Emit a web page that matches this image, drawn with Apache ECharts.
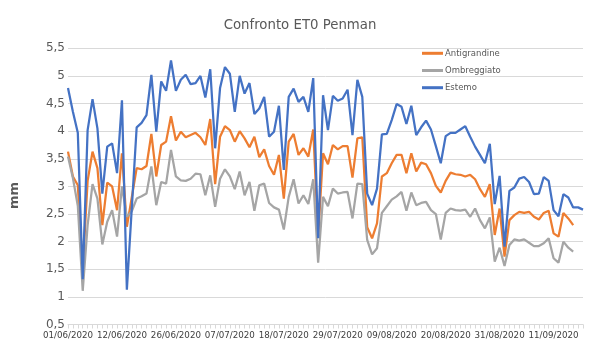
<!DOCTYPE html>
<html>
<head>
<meta charset="utf-8">
<script src="https://cdn.jsdelivr.net/npm/echarts@6/dist/echarts.min.js"></script>
<style>html,body{margin:0;padding:0;background:#fff}#c{width:600px;height:349px}</style>
</head>
<body>
<div id="c"></div>
<script>
const dates = [
"01/06/2020","02/06/2020","03/06/2020","04/06/2020","05/06/2020","06/06/2020","07/06/2020","08/06/2020","09/06/2020","10/06/2020","11/06/2020","12/06/2020",
"13/06/2020","14/06/2020","15/06/2020","16/06/2020","17/06/2020","18/06/2020","22/06/2020","23/06/2020","24/06/2020","25/06/2020","26/06/2020",
"27/06/2020","28/06/2020","29/06/2020","30/06/2020",
"01/07/2020","02/07/2020","03/07/2020","04/07/2020","05/07/2020","06/07/2020","07/07/2020","08/07/2020","09/07/2020","10/07/2020",
"11/07/2020","12/07/2020","13/07/2020","14/07/2020","15/07/2020","16/07/2020","17/07/2020","18/07/2020","19/07/2020","20/07/2020",
"21/07/2020","22/07/2020","23/07/2020","24/07/2020","25/07/2020","26/07/2020","27/07/2020","28/07/2020","29/07/2020","30/07/2020","31/07/2020",
"01/08/2020","02/08/2020","03/08/2020","04/08/2020","05/08/2020","06/08/2020","07/08/2020","08/08/2020","09/08/2020","10/08/2020",
"11/08/2020","12/08/2020","13/08/2020","14/08/2020","15/08/2020","16/08/2020","17/08/2020","18/08/2020","19/08/2020","20/08/2020",
"21/08/2020","22/08/2020","23/08/2020","24/08/2020","25/08/2020","26/08/2020","27/08/2020","28/08/2020","29/08/2020","30/08/2020","31/08/2020",
"01/09/2020","02/09/2020","03/09/2020","04/09/2020","05/09/2020","06/09/2020","07/09/2020","08/09/2020","09/09/2020","10/09/2020",
"11/09/2020","12/09/2020","13/09/2020","14/09/2020","15/09/2020","16/09/2020","17/09/2020"
];

const antigrandine = [
3.63,3.18,3.02,1.5,3.1,3.63,3.33,2.3,3.07,3.0,2.57,3.6,2.27,2.8,3.33,3.31,3.37,3.95,3.18,3.75,
3.81,4.27,3.83,3.99,3.89,3.93,3.97,3.89,3.75,4.22,3.04,3.9,4.09,4.02,3.81,4.0,3.87,3.71,3.9,3.53,
3.67,3.37,3.21,3.57,2.78,3.81,3.95,3.57,3.69,3.54,4.03,2.1,3.6,3.4,3.75,3.67,3.73,3.73,3.16,3.87,
3.89,2.26,2.06,2.33,3.18,3.24,3.42,3.57,3.57,3.24,3.6,3.27,3.43,3.4,3.24,3.01,2.89,3.1,3.25,3.22,
3.21,3.18,3.21,3.13,2.95,2.81,3.04,2.12,2.6,1.73,2.39,2.48,2.54,2.52,2.54,2.45,2.4,2.52,2.56,2.15,
2.09,2.52,2.42,2.3,null,null
];

const ombreggiato = [
3.54,3.15,2.65,1.11,2.3,3.04,2.78,1.95,2.36,2.57,2.09,3.0,2.45,2.55,2.78,2.82,2.87,3.36,2.66,3.08,
3.05,3.66,3.18,3.11,3.1,3.14,3.23,3.22,2.84,3.2,2.63,3.14,3.31,3.18,2.95,3.27,2.84,3.08,2.56,3.02,
3.05,2.7,2.62,2.58,2.22,2.81,3.13,2.69,2.84,2.68,3.13,1.62,2.81,2.64,2.96,2.87,2.89,2.9,2.42,3.05,
3.04,2.03,1.77,1.88,2.52,2.64,2.76,2.82,2.9,2.56,2.89,2.66,2.7,2.72,2.57,2.5,2.04,2.52,2.6,2.57,
2.56,2.58,2.45,2.6,2.39,2.24,2.44,1.64,1.89,1.56,1.94,2.04,2.02,2.04,1.98,1.92,1.92,1.97,2.06,1.7,
1.62,2.0,1.89,1.82,null,null
];

const estemo = [
4.78,4.35,3.97,1.32,4.02,4.58,4.05,2.87,3.72,3.78,3.24,4.56,1.13,2.6,4.07,4.15,4.29,5.02,3.99,4.9,
4.73,5.28,4.73,4.93,5.02,4.85,4.87,5.0,4.61,5.12,3.69,4.78,5.16,5.04,4.35,5.0,4.68,4.87,4.31,4.41,
4.62,3.9,3.99,4.46,3.3,4.62,4.77,4.53,4.62,4.35,4.96,2.06,4.65,4.02,4.64,4.55,4.59,4.75,3.93,4.93,
4.62,2.87,2.66,2.96,3.94,3.95,4.2,4.49,4.44,4.13,4.46,3.93,4.07,4.19,4.03,3.73,3.42,3.91,3.97,3.97,
4.03,4.09,3.9,3.72,3.57,3.42,3.77,2.68,3.19,1.91,2.92,2.98,3.14,3.17,3.08,2.86,2.87,3.17,3.1,2.57,
2.46,2.86,2.8,2.62,2.62,2.58
];

const seriesNames = ["Antigrandine","Ombreggiato","Estemo"];
const seriesColors = ["#ED7D31","#A5A5A5","#4472C4"];
const seriesData = [antigrandine, ombreggiato, estemo];

const chart = echarts.init(document.getElementById('c'), null, {renderer:'canvas'});
const FONT = 'DejaVu Sans';
chart.setOption({
  animation: false,
  textStyle: {fontFamily: FONT},
  title: {
    text: 'Confronto ET0 Penman',
    left: 'center',
    top: 14,
    textStyle: {fontFamily: FONT, fontSize: 13.3, fontWeight: 'normal', color: '#595959'}
  },
  legend: {
    orient: 'vertical',
    left: 417,
    top: 42.8,
    itemWidth: 21,
    itemHeight: 3,
    itemGap: 6.2,
    icon: 'rect',
    textStyle: {fontFamily: FONT, fontSize: 8.5, color: '#595959', lineHeight: 11, padding: [0,0,0,-3]},
    data: seriesNames
  },
  grid: {left: 65, right: 17, top: 48.3, bottom: 24.5, containLabel: false},
  xAxis: {
    type: 'category',
    data: dates,
    boundaryGap: false,
    axisLine: {lineStyle: {color: '#d9d9d9'}},
    axisTick: {show: true, interval: 0, length: 4, lineStyle: {color: '#d9d9d9'}},
    axisLabel: {interval: 10, fontFamily: FONT, fontSize: 8.7, color: '#404040', margin: 7}
  },
  yAxis: {
    type: 'value',
    min: 0.5, max: 5.5, interval: 0.5,
    name: 'mm',
    nameLocation: 'middle',
    nameGap: 47,
    nameRotate: 90,
    nameTextStyle: {fontFamily: FONT, fontSize: 13, fontWeight: 'bold', color: '#595959', padding: [0,18,0,0]},
    axisLine: {show: false},
    axisTick: {show: false},
    splitLine: {lineStyle: {color: '#d9d9d9', width: 1}},
    axisLabel: {fontFamily: FONT, fontSize: 12, color: '#595959', margin: 3,
      formatter: v => String(Math.round(v*10)/10).replace('.', ',')}
  },
  series: seriesNames.map((n, k) => ({
    name: n,
    type: 'line',
    data: seriesData[k],
    showSymbol: false,
    symbol: 'none',
    connectNulls: false,
    lineStyle: {width: 2.25, color: seriesColors[k]},
    itemStyle: {color: seriesColors[k]}
  }))
});
</script>
</body>
</html>
